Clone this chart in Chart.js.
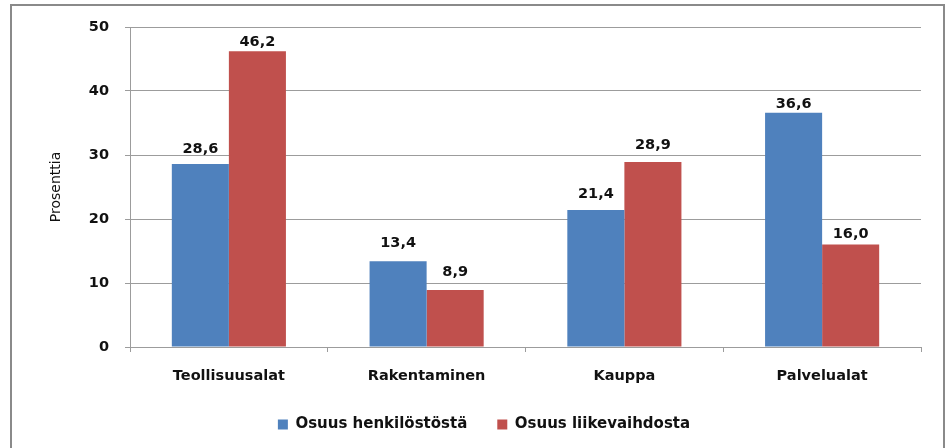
<!DOCTYPE html>
<html><head><meta charset="utf-8">
<script src="https://cdn.jsdelivr.net/npm/chart.js@4/dist/chart.umd.min.js"></script>
<style>html,body{margin:0;padding:0;background:#fff}#wrap{width:949px;height:448px}</style>
</head><body><div id="wrap"><canvas id="c" width="949" height="448"></canvas></div>
<script>
const categories = ["Teollisuusalat", "Rakentaminen", "Kauppa", "Palvelualat"];
const seriesNames = ["Osuus henkilöstöstä", "Osuus liikevaihdosta"];
const henkilosto = [28.6, 13.4, 21.4, 36.6];
const liikevaihto = [46.2, 8.9, 28.9, 16.0];
const yTicks = [0, 10, 20, 30, 40, 50];

const FONT = "'DejaVu Sans', sans-serif";
const GRID = '#9c9c9c';

const borderPlugin = {
  id: 'outerBorder',
  beforeDraw(chart) {
    const ctx = chart.ctx;
    ctx.save();
    ctx.fillStyle = '#fff';
    ctx.fillRect(0, 0, chart.width, chart.height);
    ctx.strokeStyle = '#8a8a8a';
    ctx.lineWidth = 2;
    ctx.strokeRect(11, 5, 933, 500);
    ctx.restore();
  }
};

const labelPlugin = {
  id: 'barLabels',
  afterDatasetsDraw(chart, args, opts) {
    const ctx = chart.ctx;
    ctx.save();
    ctx.font = "bold 14.5px " + FONT;
    ctx.fillStyle = '#111';
    ctx.textAlign = 'center';
    ctx.textBaseline = 'alphabetic';
    chart.data.datasets.forEach((ds, i) => {
      chart.getDatasetMeta(i).data.forEach((bar, j) => {
        const txt = ds.data[j].toFixed(1).replace('.', ',');
        const gap = (opts.gaps && opts.gaps[i] && opts.gaps[i][j] != null) ? opts.gaps[i][j] : 8;
        ctx.fillText(txt, bar.x, bar.y - gap);
      });
    });
    ctx.restore();
  }
};

new Chart(document.getElementById('c'), {
  type: 'bar',
  data: {
    labels: categories,
    datasets: [
      { label: seriesNames[0], data: henkilosto, backgroundColor: '#4F81BD' },
      { label: seriesNames[1], data: liikevaihto, backgroundColor: '#C0504D' }
    ]
  },
  options: {
    responsive: false,
    animation: false,
    devicePixelRatio: 1,
    layout: { padding: { left: 47, right: 28, top: 27, bottom: 6 } },
    datasets: { bar: { categoryPercentage: 0.577, barPercentage: 1.0 } },
    plugins: {
      tooltip: { enabled: false },
      barLabels: { gaps: [[11, 14, 12, 5], [5, 14, 13, 6.5]] },
      legend: {
        position: 'bottom',
        labels: {
          font: { family: FONT, size: 15, weight: 'bold' },
          color: '#111',
          boxWidth: 10,
          boxHeight: 10,
          padding: 30
        }
      }
    },
    scales: {
      x: {
        grid: { offset: true, drawOnChartArea: false, drawTicks: true, tickLength: 5, color: GRID },
        border: { color: GRID },
        ticks: { font: { family: FONT, size: 14.5, weight: 'bold' }, color: '#111', padding: 16 },
        afterFit(s) { s.height = 40; }
      },
      y: {
        min: 0, max: 50,
        afterBuildTicks(s) { s.ticks = yTicks.map(v => ({ value: v })); },
        grid: { color: GRID, tickLength: 5 },
        border: { color: GRID },
        ticks: { font: { family: FONT, size: 14.5, weight: 'bold' }, color: '#111', padding: 16 },
        title: { display: true, text: 'Prosenttia', font: { family: FONT, size: 14 }, color: '#111', padding: { top: 1, bottom: 0 } },
        afterFit(s) { s.width = 83; }
      }
    }
  },
  plugins: [borderPlugin, labelPlugin]
});
</script></body></html>
